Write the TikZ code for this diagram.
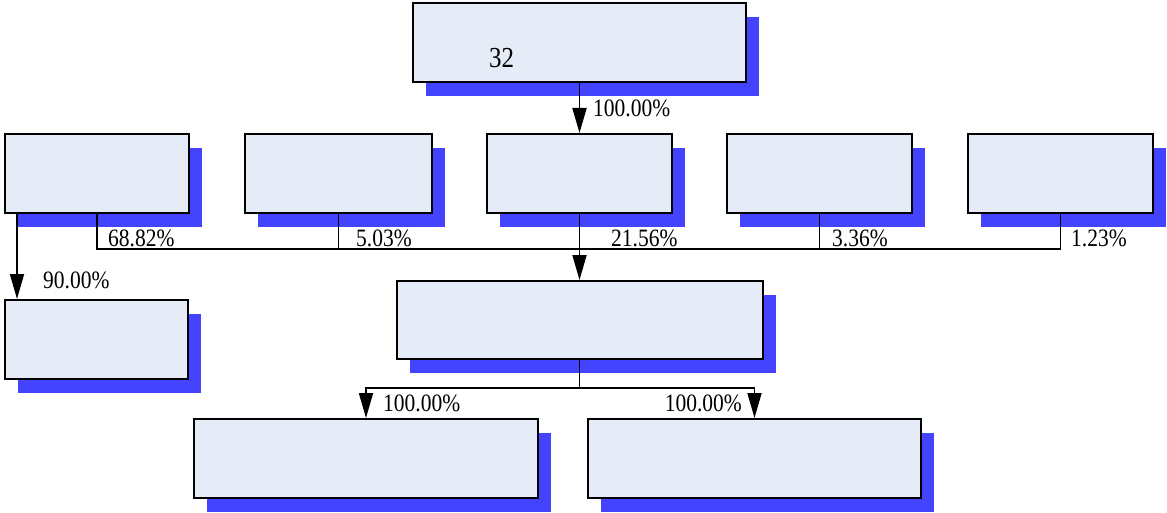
\documentclass[tikz,border=0pt]{standalone}
\usepackage{fontspec}
\setmainfont{Liberation Serif}
\newfontfamily\lblfont[FakeStretch=0.86]{Liberation Serif}
\usetikzlibrary{arrows.meta,shadows}
\definecolor{boxfill}{RGB}{230,236,247}
\definecolor{shadowblue}{RGB}{68,68,255}
\begin{document}
\begin{tikzpicture}[x=1pt,y=-1pt,
  box/.style={draw=black, line width=2pt, fill=boxfill, inner sep=0pt, anchor=north west,
    minimum height=79pt,
    drop shadow={shadow xshift=13pt, shadow yshift=-14pt, fill=shadowblue, opacity=1}},
  conn/.style={draw=black, line width=1.8pt},
  arr/.style={conn, -{Triangle[length=25pt,width=14pt]}},
  lbl/.style={font=\lblfont\fontsize{25}{25}\selectfont, anchor=base west, inner sep=0pt}]
\useasboundingbox (0,0) rectangle (1167,513);
% boxes
\node[box, minimum width=333pt] (top) at (412,2) {};
\node[box, minimum width=184pt] (A) at (4,133) {};
\node[box, minimum width=187pt] (B) at (244,133) {};
\node[box, minimum width=185pt] (C) at (486,133) {};
\node[box, minimum width=185pt] (D) at (726,133) {};
\node[box, minimum width=185pt] (E) at (967,133) {};
\node[box, minimum width=183pt] (L) at (4,299) {};
\node[box, minimum width=366pt, minimum height=78pt] (M) at (395.5,280) {};
\node[box, minimum width=344pt] (BL) at (193,418) {};
\node[box, minimum width=333pt] (BR) at (587,418) {};
% text in top box
\node[font=\lblfont\fontsize{29}{29}\selectfont, anchor=base west, inner sep=0pt] (t32) at (489,68) {32};
% connectors
\coordinate (bus) at (C.south |- 0,249);
\draw[conn] (A.south) |- (bus);
\draw[conn] (E.south) |- (bus);
\draw[conn] (B.south) -- (B.south |- bus);
\draw[conn] (D.south) -- (D.south |- bus);
\draw[arr] (C.south) -- (M.north);
\draw[arr] (top.south) -- (C.north);
\draw[arr] ([xshift=13pt]A.south west) -- ([xshift=13pt]L.north west);
\coordinate (split) at (M.south |- 0,388);
\draw[conn] (M.south) -- (split);
\draw[arr] (split) -| (BL.north);
\draw[arr] (split) -| (BR.north);
% labels
\node[lbl] (l0) at (593,117) {100.00\%};
\node[lbl] (l1) at (108,247) {68.82\%};
\node[lbl] (l2) at (356,247) {5.03\%};
\node[lbl] (l3) at (611,247) {21.56\%};
\node[lbl] (l4) at (832,247) {3.36\%};
\node[lbl] (l5) at (1071,247) {1.23\%};
\node[lbl] (l6) at (43,288) {90.00\%};
\node[lbl] (l7) at (383,411) {100.00\%};
\node[lbl, anchor=base east] (l8) at (742,411) {100.00\%};
\end{tikzpicture}
\end{document}
